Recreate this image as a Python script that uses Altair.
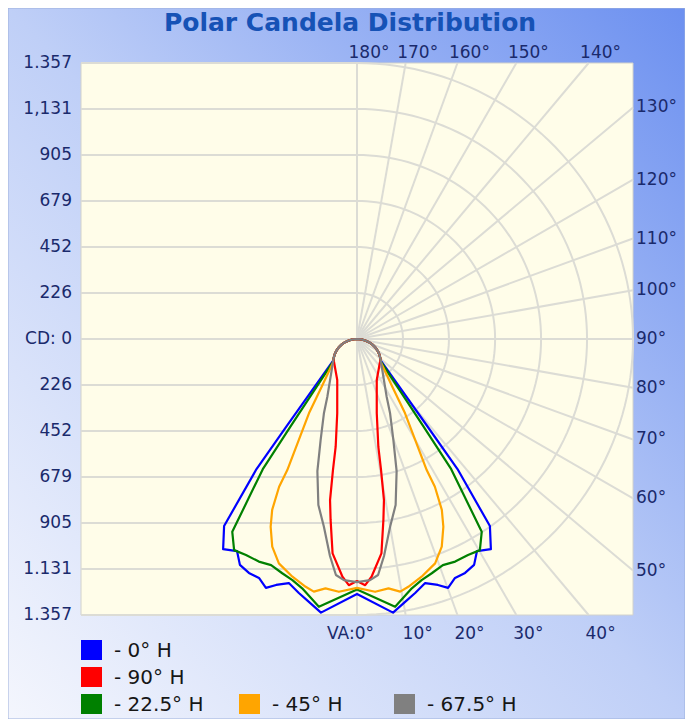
import altair as alt
import pandas as pd

# ---------------- data ----------------
TITLE = "Polar Candela Distribution"
SERIES = ["0° H", "90° H", "22.5° H", "45° H", "67.5° H"]
COLORS = ["#0000ff", "#ff0000", "#008000", "#ffa500", "#808080"]
DRAW_ORDER = ["0° H", "22.5° H", "45° H", "90° H", "67.5° H"]

CD_MAX = 1357
GRID_CD = [226, 452, 679, 905, 1131, 1357]
CD_TICKS = [1357, 1131, 905, 679, 452, 226, 0, -226, -452, -679, -905, -1131, -1357]
CD_LABELS = ["1.357", "1,131", "905", "679", "452", "226", "CD: 0",
             "226", "452", "679", "905", "1.131", "1.357"]
RIGHT_ANGLES = [130, 120, 110, 100, 90, 80, 70, 60, 50]
TOP_ANGLES = [180, 170, 160, 150, 140]
BOTTOM_ANGLES = [10, 20, 30, 40]
RADIAL_ANGLES = [0, 10, 20, 30, 40, 50, 60, 70, 80, 90, 100, 110, 120, 130, 140, 150, 160, 170, 180]

# shared low-intensity part near horizontal (vertical angle, candela)
CAP_ANGLES = [50, 55, 60, 65, 70, 75, 80, 85, 90]
CAP_CD = [150, 135, 118, 100, 81, 61, 41, 21, 0]

BLUE_ANG = [0, 7.5, 10.3, 12.9, 15.6, 18.2, 20.1, 22.3, 24.8, 27.4, 29.5, 32.5, 35.4, 37.7, 38.9, 47.5]
BLUE_CD = [1254, 1357, 1315, 1281, 1246, 1273, 1303, 1270, 1267, 1251, 1198, 1225, 1128, 808, 548, 160]

RED_ANG = [0, 1.9, 3.5, 6.5, 8.3, 9.5, 10.4, 11.2, 14.9, 25.7, 45.4]
RED_CD = [1190, 1211, 1171, 1061, 899, 803, 655, 540, 378, 224, 159]

GREEN_ANG = [0, 8.1, 12.4, 15.0, 17.7, 20.8, 23.8, 27.2, 30.2, 32.9, 35.9, 37.3, 47.0]
GREEN_CD = [1232, 1330, 1255, 1227, 1209, 1189, 1196, 1194, 1201, 1129, 790, 535, 157]

ORANGE_ANG = [0, 4.1, 7.2, 9.7, 11.7, 15.2, 19.2, 22.2, 24.7, 26.4, 27.8, 28.0, 32.9, 36.5, 45.5]
ORANGE_CD = [1224, 1246, 1236, 1260, 1244, 1211, 1168, 1103, 1016, 938, 821, 730, 435, 292, 165]

GRAY_ANG = [0, 3.1, 5.1, 7.1, 10.0, 13.1, 16.7, 19.8, 24.0, 27.2, 46.0]
GRAY_CD = [1195, 1187, 1165, 1075, 937, 838, 678, 528, 400, 319, 164]

CURVES = {
    "0° H": (BLUE_ANG, BLUE_CD),
    "90° H": (RED_ANG, RED_CD),
    "22.5° H": (GREEN_ANG, GREEN_CD),
    "45° H": (ORANGE_ANG, ORANGE_CD),
    "67.5° H": (GRAY_ANG, GRAY_CD),
}

# ---------------- layout ----------------
W, H = 677, 711
CX, CY = 349, 331            # pixel position of the polar origin
PX_PER_CD = 276 / CD_MAX
FONT = "DejaVu Sans"
LABEL_COLOR = "#1a2a6c"
GRID_COLOR = "#dcdcd5"
PLOT_FILL = "#fffde9"

XS = alt.Scale(domain=[-CX / PX_PER_CD, (W - CX) / PX_PER_CD], nice=False, zero=False)
YS = alt.Scale(domain=[-(H - CY) / PX_PER_CD, CY / PX_PER_CD], nice=False, zero=False)


def X(f):
    return alt.X(f, scale=XS, axis=None)


def Y(f):
    return alt.Y(f, scale=YS, axis=None)


one = pd.DataFrame({"k": [0]})

# background gradient
bg = alt.Chart(one).mark_rect(
    fill=alt.LinearGradient(
        gradient="linear", x1=0, y1=1, x2=1, y2=0,
        stops=[alt.GradientStop(color="#f4f6fd", offset=0),
               alt.GradientStop(color="#bfcff7", offset=0.5),
               alt.GradientStop(color="#6c90f0", offset=1)]),
    stroke="#9db0dc", strokeWidth=1,
).encode(x=alt.value(0), x2=alt.value(W), y=alt.value(0), y2=alt.value(H))

plot_bg = alt.Chart(one).transform_calculate(
    xa=str(-CD_MAX), xb=str(CD_MAX), ya=str(-CD_MAX), yb=str(CD_MAX)
).mark_rect(fill=PLOT_FILL, stroke="#d2d2cc", strokeWidth=1).encode(
    x=X("xa:Q"), x2="xb:Q", y=Y("ya:Q"), y2="yb:Q")

hgrid = alt.Chart(pd.DataFrame({"v": CD_TICKS})).transform_calculate(
    xl=str(-CD_MAX), xr="0"
).mark_rule(stroke=GRID_COLOR, strokeWidth=2).encode(x=X("xl:Q"), x2="xr:Q", y=Y("v:Q"))

arc_df = pd.DataFrame([{"r": r, "a": a} for r in GRID_CD for a in range(0, 181, 2)])
arcs = alt.Chart(arc_df).transform_calculate(
    px="datum.r * sin(datum.a * PI / 180)",
    py="-datum.r * cos(datum.a * PI / 180)",
).mark_line(stroke=GRID_COLOR, strokeWidth=2).encode(
    x=X("px:Q"), y=Y("py:Q"), detail="r:N", order="a:Q")

radial = alt.Chart(pd.DataFrame({"a": RADIAL_ANGLES})).transform_calculate(
    s="sin(datum.a * PI / 180)", c="cos(datum.a * PI / 180)"
).transform_calculate(
    re=f"{CD_MAX} / max(abs(datum.s), abs(datum.c))"
).transform_calculate(
    ex="datum.re * datum.s", ey="-datum.re * datum.c", ox="0", oy="0"
).mark_rule(stroke=GRID_COLOR, strokeWidth=2).encode(
    x=X("ox:Q"), y=Y("oy:Q"), x2="ex:Q", y2="ey:Q")

# curves
rows = []
for name, (angs, cds) in CURVES.items():
    fa = list(angs) + CAP_ANGLES
    fc = list(cds) + CAP_CD
    k = 0
    for a, c in reversed(list(zip(fa, fc))):
        rows.append({"series": name, "va": a, "cd": c, "side": 1, "ord": k})
        k += 1
    for a, c in zip(fa, fc):
        rows.append({"series": name, "va": a, "cd": c, "side": -1, "ord": k})
        k += 1
curve_df = pd.DataFrame(rows)

curve_layers = []
for name in DRAW_ORDER:
    curve_layers.append(
        alt.Chart(curve_df).transform_filter(alt.datum.series == name).transform_calculate(
            px="datum.side * datum.cd * sin(datum.va * PI / 180)",
            py="-datum.cd * cos(datum.va * PI / 180)",
        ).mark_line(strokeWidth=2.2, strokeJoin="round").encode(
            x=X("px:Q"), y=Y("py:Q"),
            color=alt.Color("series:N", scale=alt.Scale(domain=SERIES, range=COLORS), legend=None),
            order="ord:Q")
    )

# labels
txt = dict(font=FONT, fontSize=17, color=LABEL_COLOR)
left_labels = alt.Chart(pd.DataFrame({"v": CD_TICKS, "label": CD_LABELS})).transform_calculate(
    xl=str(-CD_MAX)
).mark_text(align="right", baseline="middle", dx=-9, **txt).encode(
    x=X("xl:Q"), y=Y("v:Q"), text="label:N")

right_labels = alt.Chart(pd.DataFrame({"a": RIGHT_ANGLES})).transform_calculate(
    xr=str(CD_MAX), yr=f"{CD_MAX} * tan((datum.a - 90) * PI / 180)",
    label="datum.a + '°'"
).mark_text(align="left", baseline="middle", dx=3, **txt).encode(
    x=X("xr:Q"), y=Y("yr:Q"), text="label:N")

top_labels = alt.Chart(pd.DataFrame({"a": TOP_ANGLES})).transform_calculate(
    xt=f"{CD_MAX} * tan((180 - datum.a) * PI / 180)", yt=str(CD_MAX),
    label="datum.a + '°'"
).mark_text(align="center", baseline="middle", dx=12, dy=-10, **txt).encode(
    x=X("xt:Q"), y=Y("yt:Q"), text="label:N")

bottom_labels = alt.Chart(pd.DataFrame({"a": BOTTOM_ANGLES})).transform_calculate(
    xb=f"{CD_MAX} * tan(datum.a * PI / 180)", yb=str(-CD_MAX),
    label="datum.a + '°'"
).mark_text(align="center", baseline="middle", dx=12, dy=19, **txt).encode(
    x=X("xb:Q"), y=Y("yb:Q"), text="label:N")

va_label = alt.Chart(one).transform_calculate(
    xb="0", yb=str(-CD_MAX), label="'VA:0°'"
).mark_text(align="right", baseline="middle", dx=17, dy=19, **txt).encode(
    x=X("xb:Q"), y=Y("yb:Q"), text="label:N")

title = alt.Chart(one).mark_text(
    text=TITLE, font=FONT, fontSize=25, fontWeight="bold", color="#1652b6",
    align="center", baseline="alphabetic"
).encode(x=alt.value(342), y=alt.value(23))

# legend (manual layout: two rows of one item, then a row of three)
LEGEND_POS = {"0° H": (73, 632), "90° H": (73, 659), "22.5° H": (73, 686),
              "45° H": (231, 686), "67.5° H": (386, 686)}
SQ = 20
legend_layers = []
for name, color in zip(SERIES, COLORS):
    lx, ly = LEGEND_POS[name]
    legend_layers.append(alt.Chart(one).mark_rect(fill=color).encode(
        x=alt.value(lx), x2=alt.value(lx + SQ + 1), y=alt.value(ly), y2=alt.value(ly + SQ)))
    legend_layers.append(alt.Chart(one).mark_text(
        text="- " + name, font=FONT, fontSize=20, color="#161616",
        align="left", baseline="middle").encode(
        x=alt.value(lx + SQ + 13), y=alt.value(ly + SQ / 2 + 1)))

chart = alt.layer(
    bg, plot_bg, hgrid, arcs, radial, *curve_layers,
    left_labels, right_labels, top_labels, bottom_labels, va_label, title,
    *legend_layers
).properties(
    width=W, height=H, autosize=alt.AutoSizeParams(type="none"), padding=0
).configure_view(strokeWidth=0)

chart.save("out.html", embed_options={"renderer": "svg", "actions": False})
